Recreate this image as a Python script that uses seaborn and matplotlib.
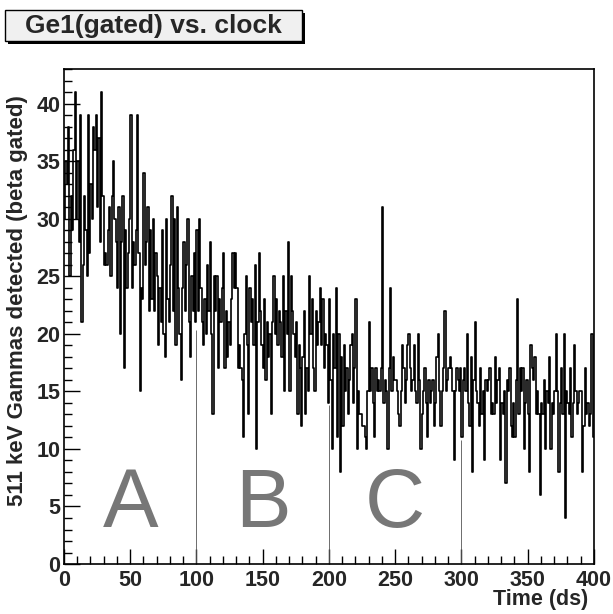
import matplotlib
matplotlib.use("Agg")
import matplotlib.pyplot as plt
from matplotlib.patches import Rectangle
from matplotlib.ticker import MultipleLocator
import numpy as np
import seaborn as sns

# counts per 1 ds bin, 0..399
counts_000 = [30, 35, 33, 38, 25, 32, 29, 36, 41, 30, 35, 28, 39, 21, 26, 32, 29, 25, 39, 27,
              33, 30, 38, 36, 39, 31, 37, 28, 41, 32, 26, 27, 26, 29, 31, 25, 32, 35, 30, 28,
              24, 31, 20, 28, 32, 17, 29, 24, 27, 30]
counts_050 = [39, 24, 28, 26, 29, 39, 27, 15, 24, 23, 34, 26, 28, 31, 22, 29, 23, 30, 22, 27,
              25, 19, 24, 21, 29, 20, 18, 30, 23, 21, 26, 32, 22, 30, 19, 31, 24, 20, 16, 24,
              28, 22, 26, 30, 21, 18, 25, 22, 27, 21]
counts_100 = [29, 22, 30, 24, 21, 19, 23, 20, 26, 22, 28, 20, 13, 25, 22, 25, 17, 23, 21, 24,
              27, 17, 22, 18, 21, 19, 23, 27, 24, 27, 24, 17, 19, 17, 16, 11, 20, 25, 19, 13,
              24, 21, 23, 19, 26, 10, 21, 27, 22, 19]
counts_150 = [17, 23, 16, 21, 18, 20, 13, 21, 25, 20, 23, 19, 22, 21, 18, 25, 15, 22, 20, 28,
              15, 25, 22, 20, 18, 21, 13, 19, 17, 12, 18, 22, 13, 17, 15, 25, 20, 23, 17, 15,
              22, 19, 21, 24, 19, 23, 17, 20, 19, 14]
counts_200 = [23, 16, 10, 20, 17, 24, 11, 20, 8, 18, 12, 19, 15, 17, 13, 16, 19, 20, 14, 17,
              23, 10, 15, 13, 13, 12, 12, 11, 10, 15, 21, 15, 17, 14, 11, 17, 15, 16, 15, 17,
              31, 14, 16, 15, 10, 17, 24, 15, 18, 16]
counts_250 = [16, 15, 13, 12, 15, 19, 17, 14, 16, 19, 20, 17, 15, 16, 19, 15, 14, 20, 16, 10,
              13, 15, 17, 14, 11, 16, 14, 15, 16, 12, 14, 18, 20, 15, 12, 15, 17, 22, 15, 16,
              17, 18, 17, 15, 9, 15, 17, 16, 15, 17]
counts_300 = [11, 16, 17, 15, 20, 14, 12, 18, 8, 16, 21, 15, 14, 12, 17, 13, 15, 9, 16, 15,
              16, 17, 13, 14, 13, 18, 14, 16, 17, 9, 14, 13, 15, 7, 16, 15, 17, 12, 11, 14,
              11, 16, 23, 13, 17, 15, 17, 10, 14, 16]
counts_350 = [13, 8, 19, 17, 16, 18, 13, 15, 13, 6, 14, 13, 16, 10, 15, 14, 18, 10, 14, 13,
              15, 20, 15, 8, 14, 17, 13, 20, 4, 15, 14, 13, 17, 11, 14, 19, 15, 13, 14, 15,
              15, 8, 12, 17, 13, 14, 12, 13, 20, 11]

counts = np.array(counts_000 + counts_050 + counts_100 + counts_150 +
                  counts_200 + counts_250 + counts_300 + counts_350)
time_ds = np.arange(len(counts)) + 0.5

region_letters = ["A", "B", "C"]
region_centres = [50, 150, 250]
region_edges = [100, 200, 300]
edge_heights = [20.3, 13.8, 10.8]

sns.set_style("ticks")
plt.rcParams["font.family"] = ["Liberation Sans", "DejaVu Sans"]

fig = plt.figure(figsize=(6.13, 6.14), dpi=100)
ax = fig.add_axes([0.1044, 0.0814, 0.8646, 0.8067])

sns.histplot(x=time_ds, weights=counts, bins=len(counts), binrange=(0, 400),
             element="step", fill=False, color="black", linewidth=1.2, ax=ax)

ax.vlines(region_edges, 0, edge_heights, color="#555555", linewidth=0.6)
for letter, xc in zip(region_letters, region_centres):
    ax.text(xc, 3.2, letter, fontsize=60, color="#777777", ha="center", va="baseline")

ax.set_xlim(0, 400)
ax.set_ylim(0, counts.max() * 1.05)
ax.xaxis.set_major_locator(MultipleLocator(50))
ax.xaxis.set_minor_locator(MultipleLocator(10))
ax.yaxis.set_major_locator(MultipleLocator(5))
ax.yaxis.set_minor_locator(MultipleLocator(1))
ax.tick_params(which="both", direction="in", color="black", width=1.0)
ax.tick_params(axis="x", which="major", length=11, pad=4, labelsize=15.5)
ax.tick_params(axis="x", which="minor", length=5.5)
ax.tick_params(axis="y", which="major", length=11.5, pad=2.5, labelsize=15.5)
ax.tick_params(axis="y", which="minor", length=5.5)
for lab in ax.get_xticklabels() + ax.get_yticklabels():
    lab.set_fontweight("bold")
for sp in ax.spines.values():
    sp.set_visible(True)
    sp.set_color("black")
    sp.set_linewidth(1.2)

ax.set_xlabel("Time (ds)", fontsize=15.5, fontweight="bold", loc="right")
ax.xaxis.set_label_coords(0.989, -0.05)
ax.set_ylabel("511 keV Gammas detected (beta gated)", fontsize=16,
              fontweight="bold", loc="top")
ax.yaxis.set_label_coords(-0.068, 0.947)

# title pave with shadow
W, H = 613, 614
fig.patches.append(Rectangle((8 / W, 1 - 44 / H), 297 / W, 31 / H,
                             transform=fig.transFigure, fc="black", ec="none"))
fig.patches.append(Rectangle((5 / W, 1 - 41 / H), 297 / W, 31 / H,
                             transform=fig.transFigure, fc="#f0f0f0", ec="black", lw=1))
fig.text(153.5 / W, 1 - 25.5 / H, "Ge1(gated) vs. clock", fontsize=19,
         fontweight="bold", ha="center", va="center")

fig.savefig("out.png", dpi=100, facecolor="white")
